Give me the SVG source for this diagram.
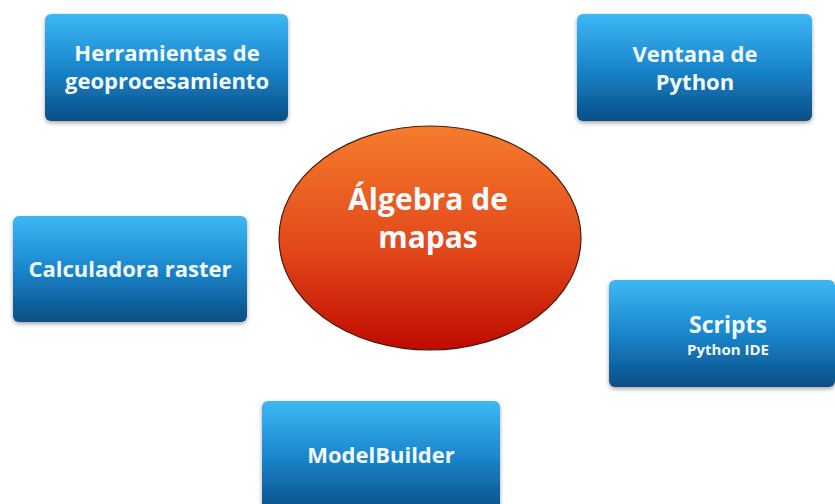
<svg xmlns="http://www.w3.org/2000/svg" width="835" height="504" viewBox="0 0 835 504">
<style>
.box{fill:url(#blue);filter:url(#sh)}
.t{font-family:"Open Sans","Liberation Sans",sans-serif;font-weight:bold;fill:#F2FAFF;text-anchor:middle}
.m{font-size:22px}
</style>
<defs>
<linearGradient id="blue" x1="0" y1="0" x2="0" y2="1">
<stop offset="0" stop-color="#3DB8F5"/>
<stop offset="0.5" stop-color="#1A86CC"/>
<stop offset="1" stop-color="#0A4E85"/>
</linearGradient>
<linearGradient id="org" x1="0" y1="0" x2="0" y2="1">
<stop offset="0" stop-color="#F57C2C"/>
<stop offset="0.55" stop-color="#E2481A"/>
<stop offset="1" stop-color="#C00A00"/>
</linearGradient>
<filter id="sh" x="-10%" y="-10%" width="120%" height="130%">
<feDropShadow dx="0" dy="2" stdDeviation="2" flood-color="#000" flood-opacity="0.35"/>
</filter>
</defs>
<rect width="835" height="504" fill="#fff"/>
<g id="center">
<ellipse cx="430" cy="238" rx="151" ry="112" fill="url(#org)" stroke="#4A1A10" stroke-width="1.2"/>
<text class="t" x="428" y="210" font-size="30">Álgebra de</text>
<text class="t" x="428" y="248" font-size="30">mapas</text>
</g>
<g id="herramientas">
<rect class="box" x="45" y="14" width="243" height="107" rx="6"/>
<text class="t m" x="167" y="61">Herramientas de</text>
<text class="t m" x="167" y="89">geoprocesamiento</text>
</g>
<g id="ventana">
<rect class="box" x="577" y="14" width="235" height="107" rx="6"/>
<text class="t m" x="695" y="62">Ventana de</text>
<text class="t m" x="695" y="90">Python</text>
</g>
<g id="calculadora">
<rect class="box" x="13" y="216" width="234" height="106" rx="6"/>
<text class="t m" x="130" y="277">Calculadora raster</text>
</g>
<g id="scripts">
<rect class="box" x="609" y="280" width="226" height="107" rx="6"/>
<text class="t" x="728" y="333" font-size="23">Scripts</text>
<text class="t" x="728" y="355" font-size="15">Python IDE</text>
</g>
<g id="modelbuilder">
<rect class="box" x="262" y="401" width="238" height="112" rx="6"/>
<text class="t m" x="381" y="463">ModelBuilder</text>
</g>
<g id="connectors"/>
</svg>
